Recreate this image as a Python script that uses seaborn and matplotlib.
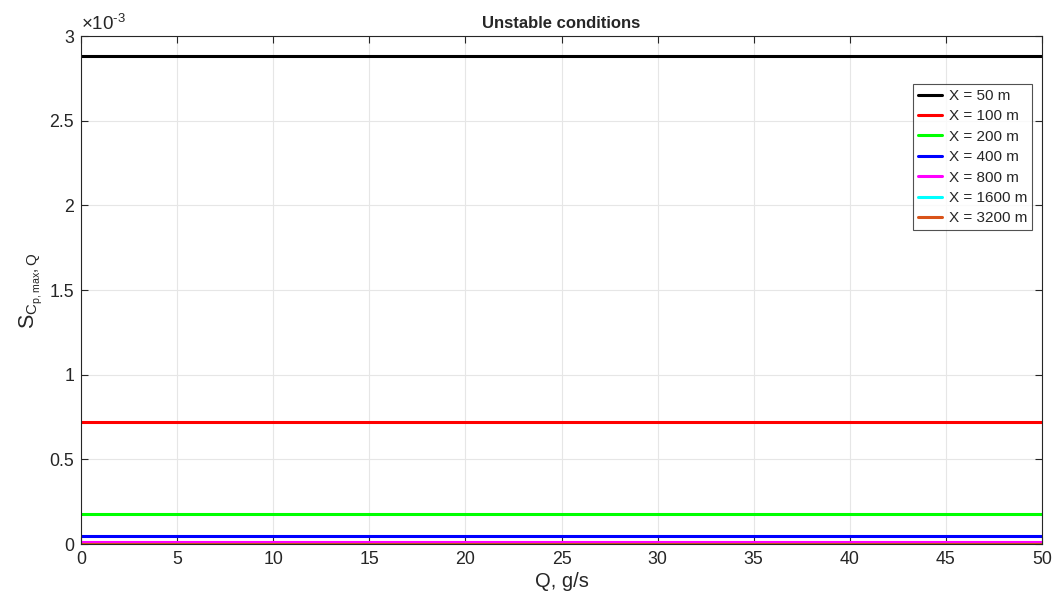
import numpy as np
import pandas as pd
import matplotlib
matplotlib.use("Agg")
import matplotlib.pyplot as plt
from matplotlib.ticker import FuncFormatter, MultipleLocator
import seaborn as sns

# Downwind distances and the corresponding sensitivity of peak concentration to Q
distances = [50, 100, 200, 400, 800, 1600, 3200]
sensitivity = [2.885e-3, 0.7213e-3, 0.1803e-3, 0.0451e-3, 0.0113e-3, 0.0028e-3, 0.0007e-3]
q_values = [0, 5, 10, 15, 20, 25, 30, 35, 40, 45, 50]
line_colors = ["#000000", "#ff0000", "#00ff00", "#0000ff", "#ff00ff", "#00ffff", "#d95319"]

labels = [f"X = {d} m" for d in distances]
rows = []
for lab, s in zip(labels, sensitivity):
    for q in q_values:
        rows.append({"Q": q, "S": s, "series": lab})
df = pd.DataFrame(rows)

sns.set_style("ticks")
plt.rcParams["font.family"] = ["Liberation Sans", "DejaVu Sans"]
plt.rcParams["mathtext.fontset"] = "custom"
plt.rcParams["mathtext.rm"] = "Liberation Sans"
plt.rcParams["mathtext.default"] = "regular"
plt.rcParams["axes.unicode_minus"] = False

fig = plt.figure(figsize=(10.52, 5.92), dpi=100)
ax = fig.add_axes([0.077, 0.081, 0.9135, 0.858])

sns.lineplot(data=df, x="Q", y="S", hue="series", hue_order=labels,
             palette=line_colors, linewidth=2.2, ax=ax, legend=True)

ax.set_xlim(0, 50)
ax.set_ylim(0, 3e-3)
ax.xaxis.set_major_locator(MultipleLocator(5))
ax.yaxis.set_major_locator(MultipleLocator(0.5e-3))
ax.yaxis.set_major_formatter(FuncFormatter(lambda v, p: f"{v * 1e3:g}"))
ax.grid(True, color="#e6e6e6", linewidth=0.8)
ax.set_axisbelow(True)

ax.tick_params(direction="in", length=5, width=0.8, labelsize=12.8, pad=5,
               top=True, right=True, colors="#262626", labelcolor="#262626")
for sp in ax.spines.values():
    sp.set_visible(True)
    sp.set_color("#262626")
    sp.set_linewidth(0.8)

ax.text(0.0, 1.004, r"$\times10^{\text{-3}}$", transform=ax.transAxes, ha="left",
        va="bottom", fontsize=13.5, color="#262626")

ax.set_title("Unstable conditions", fontsize=12, fontweight="bold", pad=6)
ax.set_xlabel("Q, g/s", fontsize=14.5, color="#262626", labelpad=3)
ax.set_ylabel(r"$S_{C_{p,max},Q}$", fontsize=15.5, color="#262626", labelpad=4)

leg = ax.legend(loc="upper right", bbox_to_anchor=(0.9896, 0.905), fontsize=11,
                frameon=True, fancybox=False, edgecolor="#262626",
                handlelength=1.6, handletextpad=0.45, borderpad=0.3,
                labelspacing=0.42, borderaxespad=0)
leg.get_frame().set_linewidth(0.8)
leg.set_title(None)

fig.savefig("out.png", dpi=100)
